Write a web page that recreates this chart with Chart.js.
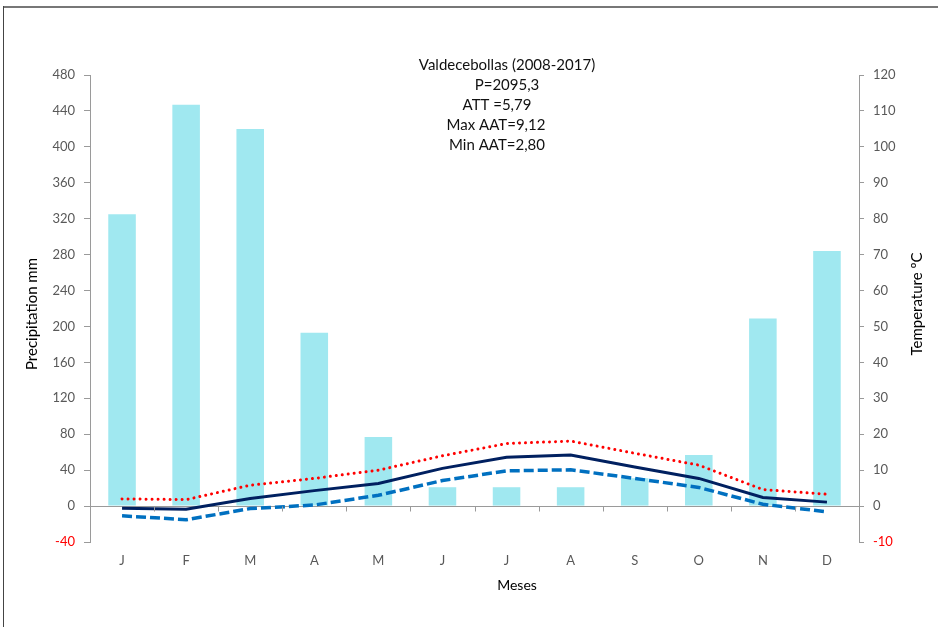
<!DOCTYPE html>
<html>
<head>
<meta charset="utf-8">
<script src="https://cdn.jsdelivr.net/npm/chart.js@4.4.1/dist/chart.umd.min.js"></script>
<style>
  html, body { margin: 0; padding: 0; background: #ffffff; }
  #wrap { position: relative; width: 938px; height: 627px; }
  canvas { display: block; }
</style>
</head>
<body>
<div id="wrap"><canvas id="c" width="938" height="627"></canvas></div>
<script>
// ---- data ----
const months = ['J', 'F', 'M', 'A', 'M', 'J', 'J', 'A', 'S', 'O', 'N', 'D'];
const precipitation = [325, 447, 420, 193, 77, 21, 21, 21, 31, 57, 209, 284];
const tempMax = [2.0, 1.8, 5.8, 7.7, 10.0, 14.0, 17.4, 18.1, 14.7, 11.4, 4.6, 3.3];
const tempMean = [-0.6, -0.9, 2.1, 4.3, 6.3, 10.5, 13.6, 14.2, 10.9, 7.7, 2.4, 1.1];
const tempMin = [-2.7, -3.8, -0.7, 0.3, 3.0, 7.1, 9.8, 10.1, 7.7, 5.2, 0.5, -1.6];
const precipTicks = [-40, 0, 40, 80, 120, 160, 200, 240, 280, 320, 360, 400, 440, 480];
const tempTicks = [-10, 0, 10, 20, 30, 40, 50, 60, 70, 80, 90, 100, 110, 120];
const infoLines = ['Valdecebollas (2008-2017)', 'P=2095,3', 'ATT =5,79', 'Max AAT=9,12', 'Min AAT=2,80'];
const leftTitle = 'Precipitation mm';
const rightTitle = 'Temperature ºC';
const xTitle = 'Meses';

const FONT = "Lato, 'Open Sans', 'Liberation Sans', sans-serif";
const AXIS_GRAY = '#9a9a9a';
const TICK_TEXT = '#595959';

const overlay = {
  id: 'overlay',
  afterDraw(chart) {
    const ctx = chart.ctx;
    const ca = chart.chartArea;
    const yL = chart.scales.yP;
    const zeroY = Math.round(yL.getPixelForValue(0)) + 0.5;
    ctx.save();
    // category tick marks on the zero line
    ctx.strokeStyle = AXIS_GRAY;
    ctx.lineWidth = 1;
    const n = months.length;
    const w = (ca.right - ca.left) / n;
    for (let i = 0; i <= n; i++) {
      const x = Math.round(ca.left + i * w) + 0.5;
      ctx.beginPath();
      ctx.moveTo(x, zeroY);
      ctx.lineTo(x, zeroY + 5);
      ctx.stroke();
    }
    // info block
    ctx.fillStyle = '#111111';
    ctx.textAlign = 'center';
    ctx.textBaseline = 'middle';
    ctx.font = '15px ' + FONT;
    const centers = [507, 507, 497, 496, 497];
    infoLines.forEach((t, i) => {
      ctx.fillText(t, centers[i], 65 + i * 20);
    });
    // axis titles
    ctx.font = '15px ' + FONT;
    ctx.fillStyle = '#000000';
    ctx.save();
    ctx.translate(32, 314);
    ctx.rotate(-Math.PI / 2);
    ctx.fillText(leftTitle, 0, 0);
    ctx.restore();
    ctx.save();
    ctx.translate(917, 304);
    ctx.rotate(-Math.PI / 2);
    ctx.fillText(rightTitle, 0, 0);
    ctx.restore();
    ctx.font = '14px ' + FONT;
    ctx.fillText(xTitle, 517, 585);
    // outer frame
    ctx.fillStyle = '#777777';
    ctx.fillRect(3, 6, 935, 2);
    ctx.fillStyle = '#444444';
    ctx.fillRect(3, 6, 1, 621);
    ctx.restore();
  }
};

new Chart(document.getElementById('c'), {
  type: 'bar',
  data: {
    labels: months,
    datasets: [
      {
        type: 'line', label: 'Max', data: tempMax, yAxisID: 'yT', order: 1,
        borderColor: '#ff0000', borderWidth: 3, borderDash: [0.01, 6], borderCapStyle: 'round',
        pointRadius: 0, tension: 0, fill: false
      },
      {
        type: 'line', label: 'Mean', data: tempMean, yAxisID: 'yT', order: 1,
        borderColor: '#002060', borderWidth: 3, pointRadius: 0, tension: 0, fill: false
      },
      {
        type: 'line', label: 'Min', data: tempMin, yAxisID: 'yT', order: 1,
        borderColor: '#0070c0', borderWidth: 3.5, borderDash: [10, 4],
        pointRadius: 0, tension: 0, fill: false
      },
      {
        type: 'bar', label: 'P', data: precipitation, yAxisID: 'yP', order: 2,
        backgroundColor: '#a0e8f0', borderWidth: 0,
        barPercentage: 0.43, categoryPercentage: 1.0
      }
    ]
  },
  options: {
    responsive: false,
    animation: false,
    devicePixelRatio: 1,
    layout: { padding: { top: 75, left: 0, right: 0, bottom: 0 } },
    plugins: { legend: { display: false }, tooltip: { enabled: false }, title: { display: false } },
    scales: {
      x: {
        position: 'bottom',
        offset: true,
        grid: { display: false, drawTicks: false },
        border: { display: false },
        ticks: { color: TICK_TEXT, font: { family: FONT, size: 13 }, padding: 11, maxRotation: 0, autoSkip: false },
        afterFit(s) { s.height = 85; }
      },
      yP: {
        type: 'linear', position: 'left', min: -40, max: 480,
        afterBuildTicks(s) { s.ticks = precipTicks.map(v => ({ value: v })); },
        grid: {
          drawOnChartArea: true, drawTicks: true, tickLength: 6,
          color: c => (c.tick && c.tick.value === 0 ? AXIS_GRAY : 'rgba(0,0,0,0)'),
          tickColor: AXIS_GRAY
        },
        border: { display: true, color: AXIS_GRAY, width: 1 },
        ticks: {
          padding: 9,
          font: { family: FONT, size: 13 },
          color: c => (c.tick && c.tick.value < 0 ? '#ff0000' : TICK_TEXT),
          callback: v => String(v)
        },
        afterFit(s) { s.width = 90; }
      },
      yT: {
        type: 'linear', position: 'right', min: -10, max: 120,
        afterBuildTicks(s) { s.ticks = tempTicks.map(v => ({ value: v })); },
        grid: { drawOnChartArea: false, drawTicks: true, tickLength: 5, tickColor: AXIS_GRAY },
        border: { display: true, color: AXIS_GRAY, width: 1 },
        ticks: {
          padding: 9,
          font: { family: FONT, size: 13 },
          color: c => (c.tick && c.tick.value < 0 ? '#ff0000' : TICK_TEXT),
          callback: v => String(v)
        },
        afterFit(s) { s.width = 79; }
      }
    }
  },
  plugins: [overlay]
});
</script>
</body>
</html>
